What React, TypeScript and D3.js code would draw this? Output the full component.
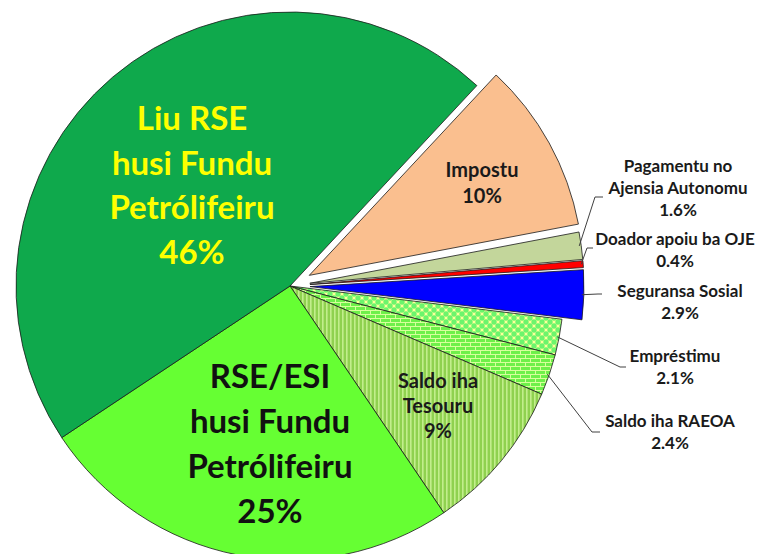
import * as d3 from "d3";
import { useRef, useEffect } from "react";

// Data
const categories = [
  "Impostu",
  "Pagamentu no Ajensia Autonomu",
  "Doador apoiu ba OJE",
  "Seguransa Sosial",
  "Empréstimu",
  "Saldo iha RAEOA",
  "Saldo iha Tesouru",
  "RSE/ESI husi Fundu Petrólifeiru",
  "Liu RSE husi Fundu Petrólifeiru",
];
const shares = [10, 1.6, 0.4, 2.9, 2.1, 2.4, 9, 25, 46];
const shareLabels = ["10%", "1.6%", "0.4%", "2.9%", "2.1%", "2.4%", "9%", "25%", "46%"];
const labelLines = [
  ["Impostu"],
  ["Pagamentu no", "Ajensia Autonomu"],
  ["Doador apoiu ba OJE"],
  ["Seguransa Sosial"],
  ["Empréstimu"],
  ["Saldo iha RAEOA"],
  ["Saldo iha", "Tesouru"],
  ["RSE/ESI", "husi Fundu", "Petrólifeiru"],
  ["Liu RSE", "husi Fundu", "Petrólifeiru"],
];
const exploded = [22, 20, 20, 20, 0, 0, 0, 0, 0];

export default function App() {
  const chartRef = useRef(null);
  const width = 757;
  const height = 554;

  useEffect(() => {
    const svg = d3.select(chartRef.current);
    svg.selectAll("*").remove();

    const cx = 290;
    const cy = 286;
    const r = 274;
    const font = "Lato, 'Open Sans', sans-serif";

    const defs = svg.append("defs");

    // Patterns
    const stripes = defs
      .append("pattern")
      .attr("id", "p-tesouru")
      .attr("width", 4)
      .attr("height", 4)
      .attr("patternUnits", "userSpaceOnUse");
    stripes.append("rect").attr("width", 4).attr("height", 4).attr("fill", "#8fd14f");
    stripes.append("rect").attr("width", 1.6).attr("height", 4).attr("fill", "#c2ee8c");

    const brick = defs
      .append("pattern")
      .attr("id", "p-raeoa")
      .attr("width", 10)
      .attr("height", 8)
      .attr("patternUnits", "userSpaceOnUse");
    brick.append("rect").attr("width", 10).attr("height", 8).attr("fill", "#6ef04a");
    brick
      .append("path")
      .attr("d", "M0 0.5H10M0 4.5H10M0.5 0V4.5M5.5 4.5V8")
      .attr("stroke", "#d8ff9c")
      .attr("stroke-width", 1)
      .attr("fill", "none");

    const dots = defs
      .append("pattern")
      .attr("id", "p-emprestimu")
      .attr("width", 8)
      .attr("height", 8)
      .attr("patternUnits", "userSpaceOnUse");
    dots.append("rect").attr("width", 8).attr("height", 8).attr("fill", "#ffff99");
    [[0, 0], [8, 0], [0, 8], [8, 8], [4, 4]].forEach(([x, y]) => {
      dots.append("circle").attr("cx", x).attr("cy", y).attr("r", 2.7).attr("fill", "#6cf56c");
    });

    const colours = d3
      .scaleOrdinal<string, string>()
      .domain(categories)
      .range([
        "#fabf8f",
        "#c3d69b",
        "#ff0000",
        "#0000ff",
        "url(#p-emprestimu)",
        "url(#p-raeoa)",
        "url(#p-tesouru)",
        "#66ff33",
        "#0fa94c",
      ]);

    const pie = d3
      .pie<number>()
      .sort(null)
      .value((d) => d)
      .startAngle((43 * Math.PI) / 180)
      .endAngle((43 * Math.PI) / 180 + 2 * Math.PI);

    const arcs = pie(shares);
    const arc = d3.arc<d3.PieArcDatum<number>>().innerRadius(0).outerRadius(r);

    const offset = (a: d3.PieArcDatum<number>, i: number) => {
      const mid = (a.startAngle + a.endAngle) / 2;
      const k = exploded[i];
      return [Math.sin(mid) * k, -Math.cos(mid) * k];
    };

    const g = svg.append("g").attr("transform", `translate(${cx},${cy})`);

    g.selectAll("path.slice")
      .data(arcs)
      .join("path")
      .attr("class", "slice")
      .attr("transform", (d, i) => {
        const [dx, dy] = offset(d, i);
        return `translate(${dx},${dy})`;
      })
      .attr("d", arc)
      .attr("fill", (d, i) => colours(categories[i]))
      .attr("stroke", "#1a1a1a")
      .attr("stroke-width", 0.8)
      .attr("stroke-linejoin", "round");

    // Labels inside slices
    const inner = [
      { i: 0, x: 482, y: 177, size: 20, step: 26, color: "#1a1a1a" },
      { i: 6, x: 438, y: 388, size: 20, step: 25, color: "#1a1a1a" },
      { i: 7, x: 270, y: 388, size: 33, step: 45, color: "#111" },
      { i: 8, x: 192, y: 130, size: 33, step: 44.5, color: "#ffff00" },
    ];
    inner.forEach((l) => {
      const lines = [...labelLines[l.i], shareLabels[l.i]];
      svg
        .append("text")
        .attr("text-anchor", "middle")
        .attr("font-family", font)
        .attr("font-weight", 700)
        .attr("font-size", l.size)
        .attr("fill", l.color)
        .selectAll("tspan")
        .data(lines)
        .join("tspan")
        .attr("x", l.x)
        .attr("y", (d, k) => l.y + k * l.step)
        .text((d) => d);
    });

    // Outside labels with leader lines
    const outer = [
      { i: 1, x: 678, y: 172, ex: 595, ey: 197, end: 603 },
      { i: 2, x: 675, y: 245, ex: 587, ey: 248, end: 593 },
      { i: 3, x: 680, y: 297, ex: 598, ey: 294, end: 602 },
      { i: 4, x: 675, y: 362, ex: 620, ey: 367, end: 626 },
      { i: 5, x: 670, y: 427, ex: 592, ey: 432, end: 600 },
    ];
    outer.forEach((l) => {
      const a = arcs[l.i];
      const mid = (a.startAngle + a.endAngle) / 2;
      const [dx, dy] = offset(a, l.i);
      const sx = cx + dx + Math.sin(mid) * (r - 2);
      const sy = cy + dy - Math.cos(mid) * (r - 2);
      svg
        .append("path")
        .attr("d", d3.line()([[sx, sy], [l.ex, l.ey], [l.end, l.ey]]))
        .attr("fill", "none")
        .attr("stroke", "#404040")
        .attr("stroke-width", 1);

      const lines = [...labelLines[l.i], shareLabels[l.i]];
      svg
        .append("text")
        .attr("text-anchor", "middle")
        .attr("font-family", font)
        .attr("font-weight", 700)
        .attr("font-size", 17)
        .attr("fill", "#1a1a1a")
        .selectAll("tspan")
        .data(lines)
        .join("tspan")
        .attr("x", l.x)
        .attr("y", (d, k) => l.y + k * 22)
        .text((d) => d);
    });
  }, []);

  return (
    <svg
      ref={chartRef}
      width={width}
      height={height}
      viewBox={`0 0 ${width} ${height}`}
      style={{ position: "absolute", left: 0, top: 0, background: "#fff" }}
    />
  );
}
